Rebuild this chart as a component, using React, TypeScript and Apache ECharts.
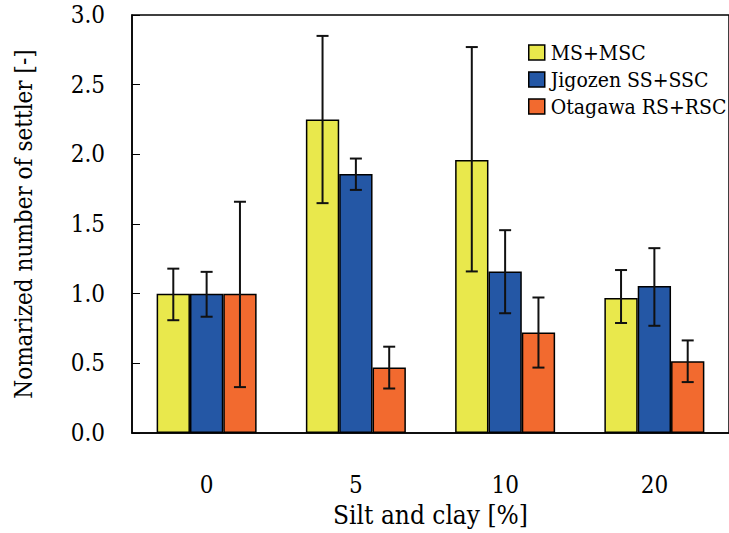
import React, { useEffect, useRef } from "react";
import * as echarts from "echarts";

const categories = ["0", "5", "10", "20"];
const seriesNames = ["MS+MSC", "Jigozen SS+SSC", "Otagawa RS+RSC"];
const colors = ["#E9E84C", "#2457A5", "#F26A2F"];
const msValues = [1.0, 2.25, 1.96, 0.97];
const msLow = [0.81, 1.65, 1.16, 0.79];
const msHigh = [1.18, 2.85, 2.77, 1.17];
const jgValues = [1.0, 1.86, 1.16, 1.055];
const jgLow = [0.835, 1.745, 0.86, 0.77];
const jgHigh = [1.157, 1.97, 1.456, 1.327];
const otValues = [1.0, 0.47, 0.722, 0.516];
const otLow = [0.33, 0.32, 0.47, 0.366];
const otHigh = [1.66, 0.62, 0.973, 0.665];
const yTicks = [0, 0.5, 1.0, 1.5, 2.0, 2.5, 3.0];

const FONT = "DejaVu Serif Condensed";
const CAT_GAP = 0.33;

export default function App() {
  const ref = useRef<HTMLDivElement>(null);
  useEffect(() => {
    if (!ref.current) return;
    const chart = echarts.init(ref.current, undefined, { renderer: "svg" });
    const values = [msValues, jgValues, otValues];
    const lows = [msLow, jgLow, otLow];
    const highs = [msHigh, jgHigh, otHigh];

    const barSeries = seriesNames.map((name, i) => ({
      name,
      type: "bar",
      data: values[i],
      barGap: "0%",
      barCategoryGap: CAT_GAP * 100 + "%",
      itemStyle: { color: colors[i], borderColor: "#000", borderWidth: 1.5 },
      z: 2,
    }));

    const errSeries = seriesNames.map((name, i) => ({
      name: name + "_err",
      type: "custom",
      z: 5,
      data: categories.map((_, k) => [k, lows[i][k], highs[i][k]]),
      renderItem: (params: any, api: any) => {
        const k = api.value(0);
        const lo = api.coord([k, api.value(1)]);
        const hi = api.coord([k, api.value(2)]);
        const band = api.size([1, 0])[0];
        const bw = (band * (1 - CAT_GAP)) / 3;
        const x = lo[0] + (i - 1) * bw;
        const cap = 6;
        const style = { stroke: "#111", lineWidth: 2 };
        return {
          type: "group",
          children: [
            { type: "line", shape: { x1: x, y1: lo[1], x2: x, y2: hi[1] }, style },
            { type: "line", shape: { x1: x - cap, y1: lo[1], x2: x + cap, y2: lo[1] }, style },
            { type: "line", shape: { x1: x - cap, y1: hi[1], x2: x + cap, y2: hi[1] }, style },
          ],
        };
      },
    }));

    chart.setOption({
      animation: false,
      backgroundColor: "#fff",
      textStyle: { fontFamily: FONT },
      grid: {
        left: 132,
        top: 15,
        width: 603,
        height: 419,
        show: true,
        borderColor: "#000",
        borderWidth: 1.5,
        backgroundColor: "transparent",
      },
      legend: {
        data: seriesNames,
        orient: "vertical",
        left: 523,
        top: 37,
        itemWidth: 16,
        itemHeight: 15,
        itemGap: 6,
        icon: "rect",
        itemStyle: { borderColor: "#000", borderWidth: 1.5 },
        textStyle: { fontFamily: FONT, fontSize: 21, color: "#000", padding: [0, 0, 0, 1] },
      },
      xAxis: {
        type: "category",
        data: categories,
        name: "Silt and clay [%]",
        nameLocation: "middle",
        nameGap: 62,
        nameTextStyle: { fontFamily: FONT, fontSize: 26, color: "#000" },
        axisLine: { lineStyle: { color: "#000", width: 1.5 } },
        axisTick: { inside: true, length: 8, lineStyle: { color: "#000", width: 1 } },
        axisLabel: { fontFamily: FONT, fontSize: 24, color: "#000", margin: 40 },
      },
      yAxis: {
        type: "value",
        min: 0,
        max: 3,
        interval: 0.5,
        name: "Nomarized number of settler [-]",
        nameLocation: "middle",
        nameGap: 96,
        nameTextStyle: { fontFamily: FONT, fontSize: 24, color: "#000" },
        splitLine: { show: false },
        axisLine: { show: true, lineStyle: { color: "#000", width: 1.5 } },
        axisTick: { show: true, inside: true, length: 8, lineStyle: { color: "#000", width: 1 } },
        axisLabel: {
          fontFamily: FONT,
          fontSize: 24,
          color: "#000",
          margin: 27,
          formatter: (v: number) => (yTicks.includes(v) ? v.toFixed(1) : ""),
        },
      },
      series: [...barSeries, ...errSeries],
    });
    return () => chart.dispose();
  }, []);
  return (
    <div
      ref={ref}
      style={{ position: "fixed", left: 0, top: 0, width: 729, height: 533 }}
    />
  );
}
